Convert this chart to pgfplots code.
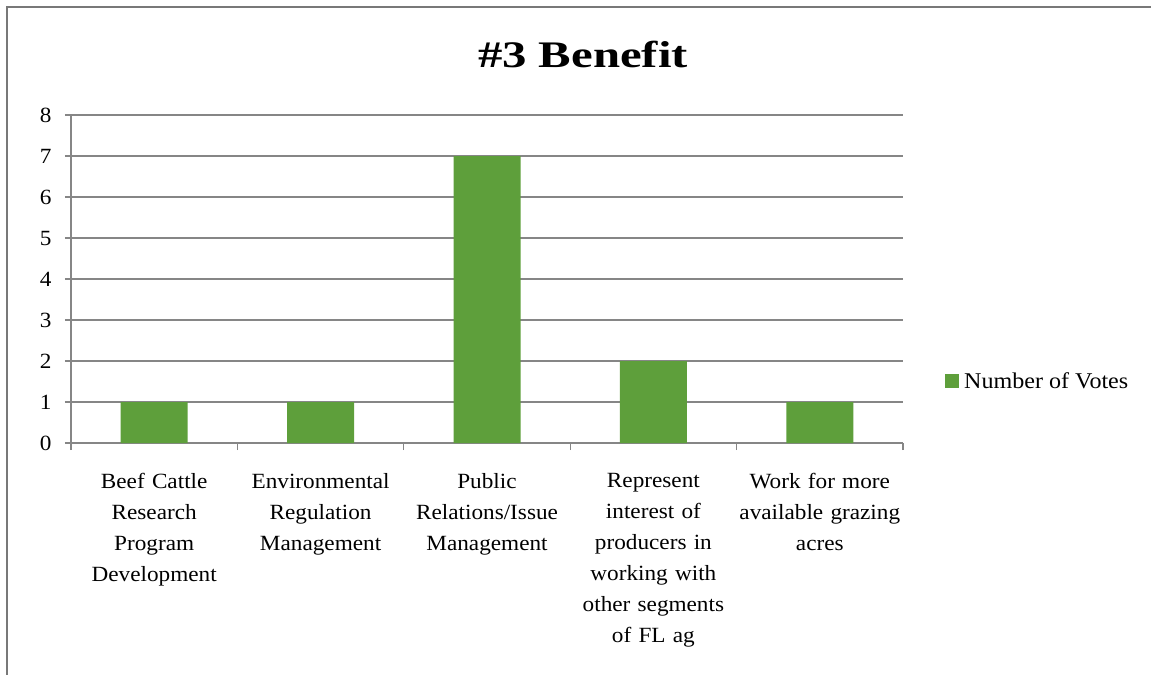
\documentclass[border=0pt]{standalone}
\usepackage{fontspec}
\setmainfont[FakeStretch=1.07]{Liberation Serif}
\newfontfamily\titlefont[FakeStretch=1.3]{Liberation Serif}
\usepackage{pgfplots}
\pgfplotsset{compat=1.18}
\definecolor{bargreen}{RGB}{94,159,59}
\definecolor{gridgray}{RGB}{134,134,134}
\definecolor{framegray}{RGB}{120,120,120}
\begin{document}
\begin{tikzpicture}
\useasboundingbox (0,0) rectangle (1151bp,-675bp);
\draw[framegray, line width=2bp] (7bp,-676bp) -- (7bp,-7bp) -- (1152bp,-7bp);
\node[font={\titlefont\bfseries\fontsize{37.5bp}{44bp}\selectfont}] at (583bp,-54bp) {\#3 Benefit};
\begin{axis}[
  at={(71bp,-443bp)}, anchor=south west,
  scale only axis, width=832bp, height=328bp,
  xmin=0.5, xmax=5.5, ymin=0, ymax=8,
  ytick={0,1,...,8},
  xtick={1,2,3,4,5},
  xticklabels={{Beef Cattle\\Research\\Program\\Development},
               {Environmental\\Regulation\\Management},
               {Public\\Relations/Issue\\Management},
               {Represent\\interest of\\producers in\\working with\\other segments\\of FL ag},
               {Work for more\\available grazing\\acres}},
  minor xtick={0.5,1.5,...,5.5},
  major x tick style={draw=none},
  axis x line*=bottom, axis y line*=left,
  axis line style={gridgray, line width=1.3bp, -},
  tick style={gridgray, line width=1.3bp},
  tick align=outside,
  major tick length=6bp, minor tick length=7bp,
  ymajorgrids, grid style={gridgray, line width=1.3bp},
  /pgf/number format/assume math mode=true,
  tick label style={font=\fontsize{21.7bp}{31bp}\selectfont},
  xticklabel style={text width=180bp, align=center, anchor=north, yshift=-21bp},
  yticklabel style={xshift=-10bp},
  legend style={at={(1.0505,0.189)}, anchor=west, draw=none, fill=none,
    font=\fontsize{22.5bp}{25bp}\selectfont, inner sep=0pt},
  legend image code/.code={\fill[bargreen] (0bp,-7bp) rectangle (14bp,7bp);},
  legend cell align=left,
]
\addplot[ybar, bar width=67bp, fill=bargreen, draw=none] coordinates {
  (1,1) (2,1) (3,7) (4,2) (5,1)
};
\addlegendentry{\hspace{3bp}Number of Votes}
\end{axis}
\end{tikzpicture}
\end{document}
